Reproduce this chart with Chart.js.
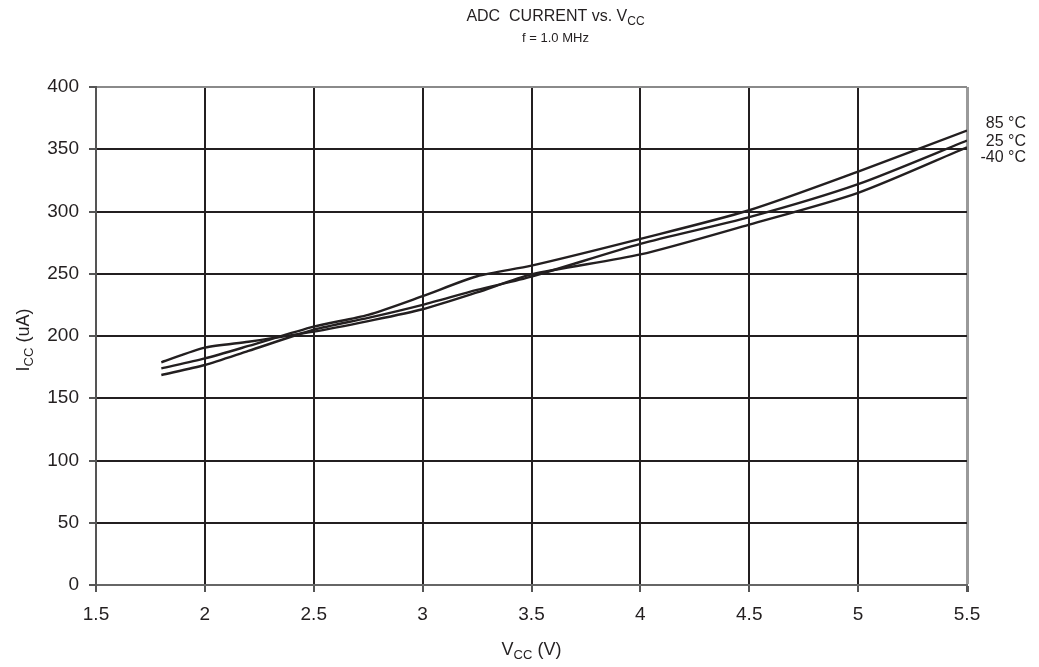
<!DOCTYPE html>
<html>
<head>
<meta charset="utf-8">
<script src="https://cdn.jsdelivr.net/npm/chart.js@4/dist/chart.umd.min.js"></script>
<style>
  html, body { margin: 0; padding: 0; background: #fff; }
  #wrap { width: 1039px; height: 667px; position: relative; }
</style>
</head>
<body>
<div id="wrap"><canvas id="adcChart"></canvas></div>
<script>
//--- Data ---//
const vcc = [1.8, 2.0, 2.2, 2.5, 2.75, 3.0, 3.25, 3.5, 4.0, 4.5, 5.0, 5.5];
const icc85 = [174, 182, 192, 207.5, 217, 232, 248, 256.5, 278, 301, 332, 365];
const icc25 = [168.7, 176.7, 188, 205, 214.5, 225, 237, 247.7, 274, 295.5, 322, 357];
const iccMinus40 = [178.9, 190.6, 195.4, 203.5, 212, 221.5, 235, 249.5, 265.5, 289.5, 315, 351.6];
const seriesNames = ['85 °C', '25 °C', '-40 °C'];
// values on the current axis where each series name sits
const nameAnchors = [371, 356, 343];
const xTicks = [1.5, 2, 2.5, 3, 3.5, 4, 4.5, 5, 5.5];
const yTicks = [0, 50, 100, 150, 200, 250, 300, 350, 400];
//------------//

const ink = '#231f20';
const font = "'Liberation Sans', Arial, Helvetica, sans-serif";

function toPoints(ys) {
    return vcc.map((v, i) => ({ x: v, y: ys[i] }));
}

// draws text with parts like [['V', false], ['CC', true]] (true = subscript)
function drawWithSub(ctx, parts, x, y, size, align) {
    const subSize = Math.round(size * 0.72);
    let total = 0;
    parts.forEach(p => {
        ctx.font = `${p[1] ? subSize : size}px ${font}`;
        total += ctx.measureText(p[0]).width;
    });
    let cx = align === 'center' ? x - total / 2 : x;
    ctx.textAlign = 'left';
    ctx.textBaseline = 'middle';
    parts.forEach(p => {
        ctx.font = `${p[1] ? subSize : size}px ${font}`;
        ctx.fillText(p[0], cx, p[1] ? y + size * 0.3 : y);
        cx += ctx.measureText(p[0]).width;
    });
}

const textPlugin = {
    id: 'textPlugin',
    afterDraw(chart) {
        const ctx = chart.ctx;
        const area = chart.chartArea;
        const yScale = chart.scales.y;
        ctx.save();
        ctx.fillStyle = ink;
        const midX = (area.left + area.right) / 2;
        // titles
        drawWithSub(ctx, [['ADC  CURRENT vs. V', false], ['CC', true]], midX + 24, 17, 16, 'center');
        drawWithSub(ctx, [['f = 1.0 MHz', false]], midX + 24, 38, 13, 'center');
        // x axis title
        drawWithSub(ctx, [['V', false], ['CC', true], [' (V)', false]], midX, 650, 18, 'center');
        // y axis title
        ctx.save();
        ctx.translate(24, 340);
        ctx.rotate(-Math.PI / 2);
        drawWithSub(ctx, [['I', false], ['CC', true], [' (uA)', false]], 0, 0, 18, 'center');
        ctx.restore();
        // series names on the right
        ctx.font = `16px ${font}`;
        ctx.textAlign = 'right';
        ctx.textBaseline = 'middle';
        seriesNames.forEach((name, i) => {
            ctx.fillText(name, 1026, yScale.getPixelForValue(nameAnchors[i]));
        });
        ctx.restore();
    }
};

function makeDataset(label, ys) {
    return {
        label: label,
        data: toPoints(ys),
        borderColor: ink,
        borderWidth: 2.4,
        pointRadius: 0,
        tension: 0.25,
        fill: false
    };
}

new Chart(document.getElementById('adcChart'), {
    type: 'line',
    data: {
        datasets: [
            makeDataset(seriesNames[0], icc85),
            makeDataset(seriesNames[1], icc25),
            makeDataset(seriesNames[2], iccMinus40)
        ]
    },
    options: {
        responsive: true,
        maintainAspectRatio: false,
        devicePixelRatio: 1,
        animation: false,
        layout: { padding: { left: 0, right: 72, top: 87, bottom: 0 } },
        plugins: {
            legend: { display: false },
            tooltip: { enabled: false },
            title: { display: false }
        },
        scales: {
            x: {
                type: 'linear',
                min: 1.5,
                max: 5.5,
                afterFit: s => { s.height = 82; },
                afterBuildTicks: s => { s.ticks = xTicks.map(v => ({ value: v })); },
                ticks: {
                    color: ink,
                    font: { family: font, size: 19 },
                    padding: 11,
                    maxRotation: 0,
                    callback: v => String(v)
                },
                grid: {
                    color: c => (c.tick && c.tick.value === 5.5) ? '#9a9a9a' : ink,
                    lineWidth: c => (c.tick && c.tick.value === 5.5) ? 3 : 2,
                    tickLength: 7,
                    tickColor: '#555'
                },
                border: { color: '#666', width: 2 }
            },
            y: {
                min: 0,
                max: 400,
                afterFit: s => { s.width = 96; },
                afterBuildTicks: s => { s.ticks = yTicks.map(v => ({ value: v })); },
                ticks: {
                    color: ink,
                    font: { family: font, size: 19 },
                    padding: 10
                },
                grid: {
                    color: c => (c.tick && (c.tick.value === 400 || c.tick.value === 0)) ? '#8a8a8a' : ink,
                    lineWidth: 2,
                    tickLength: 7,
                    tickColor: '#555'
                },
                border: { color: '#555', width: 2 }
            }
        }
    },
    plugins: [textPlugin]
});
</script>
</body>
</html>
